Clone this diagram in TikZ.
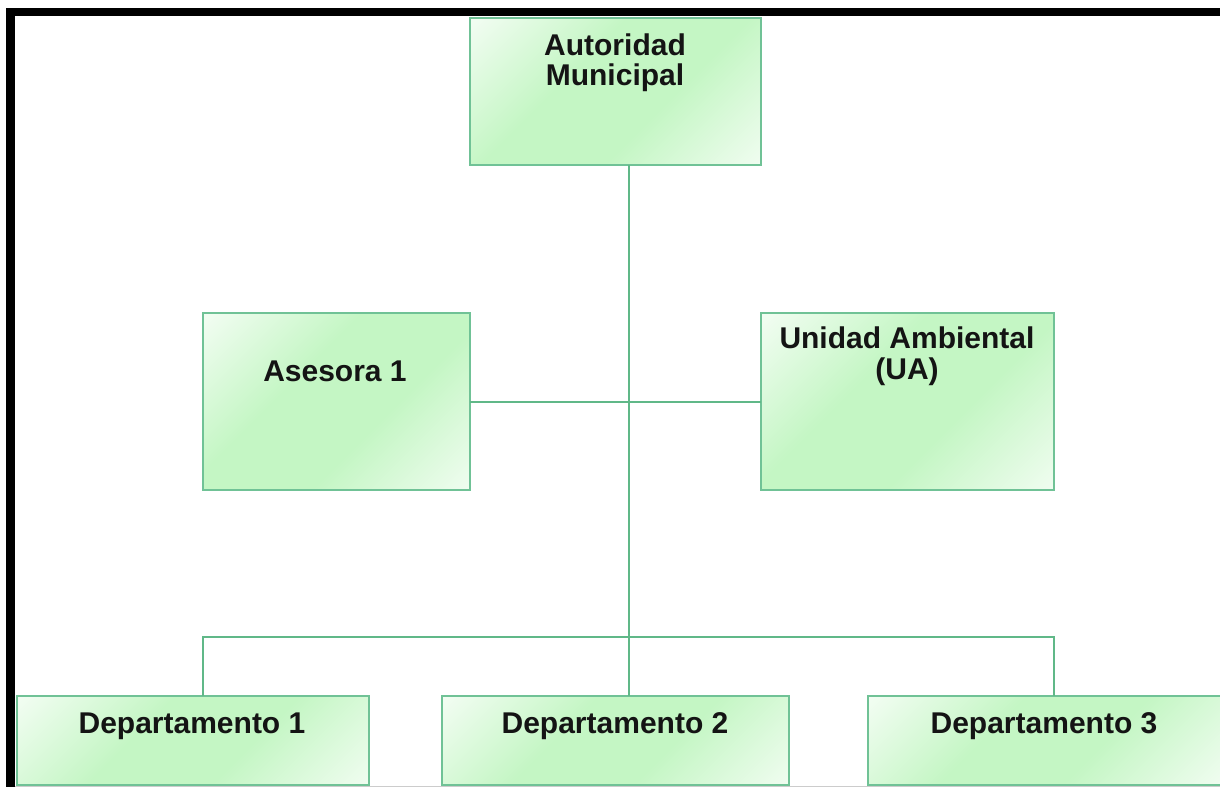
\documentclass[tikz,border=0pt]{standalone}
\usepackage{fontspec}
\setmainfont{Liberation Sans}
\definecolor{boxgreen}{RGB}{196,246,196}
\definecolor{edgegreen}{RGB}{112,194,150}
\definecolor{linkgreen}{RGB}{96,184,136}
\pgfdeclarehorizontalshading{wgw}{100bp}{color(0bp)=(white); color(8bp)=(white); color(40bp)=(boxgreen); color(60bp)=(boxgreen); color(94bp)=(white); color(100bp)=(white)}
\tikzset{
  orgbox/.style={rectangle, inner sep=0pt, outer sep=0pt, draw=edgegreen, line width=1.6pt, shading=wgw, shading angle=-45},
  orgtxt/.style={anchor=base, inner sep=0pt, font=\bfseries\fontsize{30}{32}\selectfont, text=black!92},
  link/.style={draw=linkgreen, line width=2pt},
}
\begin{document}
\begin{tikzpicture}[x=1pt,y=-1pt]
\useasboundingbox (0,0) rectangle (1220,787);
% frame
\fill[black] (6,8) rectangle (1220,16);
\fill[black] (6,8) rectangle (15,787);
\draw[black!20, line width=1pt] (15,786) -- (1220,786);
% helper coordinates
\coordinate (spine) at (629,0);
\coordinate (busL) at (203,637);
\coordinate (busR) at (1054,637);
% boxes
\node[orgbox, minimum width=291pt, minimum height=147pt] (auto) at (615.5,91.5) {};
\node[orgbox, minimum width=267pt, minimum height=177pt] (ases) at (336.5,401.5) {};
\node[orgbox, minimum width=293pt, minimum height=177pt] (ua) at (907.5,401.5) {};
\node[orgbox, minimum width=352pt, minimum height=89pt] (d1) at (193,740.5) {};
\node[orgbox, minimum width=347pt, minimum height=89pt] (d2) at (615.5,740.5) {};
\node[orgbox, minimum width=353pt, minimum height=89pt] (d3) at (1044.5,740.5) {};
% connectors
\draw[link] (auto.south -| spine) -- (d2.north -| spine);
\draw[link] (ases.east) -- (ua.west);
\draw[link] (d1.north -| busL) -- (busL) -- (busR) -- (d3.north -| busR);
% texts
\node[orgtxt] (tauto1) at (615,55) {Autoridad};
\node[orgtxt] (tauto2) at (615,85) {Municipal};
\node[orgtxt] (tases) at (335,381) {Asesora 1};
\node[orgtxt] (tua1) at (907,348) {Unidad Ambiental};
\node[orgtxt] (tua2) at (907,379) {(UA)};
\node[orgtxt] (td1) at (192,733) {Departamento 1};
\node[orgtxt] (td2) at (615,733) {Departamento 2};
\node[orgtxt] (td3) at (1044,733) {Departamento 3};
\end{tikzpicture}
\end{document}
